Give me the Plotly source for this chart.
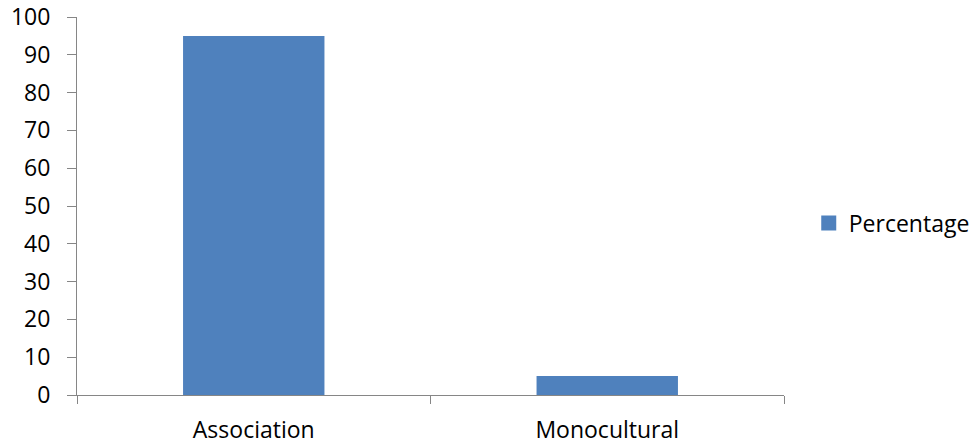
import plotly.graph_objects as go

# Cropping system shares
categories = ["Association", "Monocultural"]
percentage = [95, 5]
y_ticks = [0, 10, 20, 30, 40, 50, 60, 70, 80, 90, 100]

AXIS_GRAY = "#868686"
BAR_BLUE = "#4F81BD"
FONT = dict(family="Open Sans, Lato, Liberation Sans, sans-serif", size=23, color="#000000")

fig = go.Figure()

fig.add_trace(
    go.Bar(
        x=categories,
        y=percentage,
        name="Percentage",
        marker=dict(color=BAR_BLUE, line=dict(width=0)),
        width=0.4,
        showlegend=False,
        legendgroup="pct",
    )
)

# Legend entry with a larger square key for the same series
fig.add_trace(
    go.Scatter(
        x=[categories[0]],
        y=[None],
        mode="markers",
        name="Percentage",
        marker=dict(symbol="square", size=15, color=BAR_BLUE, line=dict(width=0)),
        legendgroup="pct",
        hoverinfo="skip",
    )
)

fig.update_layout(
    width=974,
    height=446,
    margin=dict(l=77, r=190, t=17, b=51, autoexpand=False),
    paper_bgcolor="white",
    plot_bgcolor="white",
    font=FONT,
    showlegend=True,
    legend=dict(
        x=1.035,
        xanchor="left",
        y=0.455,
        yanchor="middle",
        font=FONT,
        itemwidth=30,
        bgcolor="rgba(0,0,0,0)",
        traceorder="normal",
    ),
)

fig.update_xaxes(
    automargin=False,
    showline=True,
    linecolor=AXIS_GRAY,
    linewidth=1,
    showgrid=False,
    ticks="outside",
    tickson="boundaries",
    ticklen=8,
    tickcolor=AXIS_GRAY,
    tickwidth=1,
    ticklabelstandoff=14,
    zeroline=False,
)

fig.update_yaxes(
    automargin=False,
    range=[0, 100],
    tickvals=y_ticks,
    showline=True,
    linecolor=AXIS_GRAY,
    linewidth=1,
    showgrid=False,
    ticks="outside",
    ticklen=9,
    tickcolor=AXIS_GRAY,
    tickwidth=1,
    ticklabelstandoff=12,
    zeroline=False,
)

fig.write_html("out.html")
